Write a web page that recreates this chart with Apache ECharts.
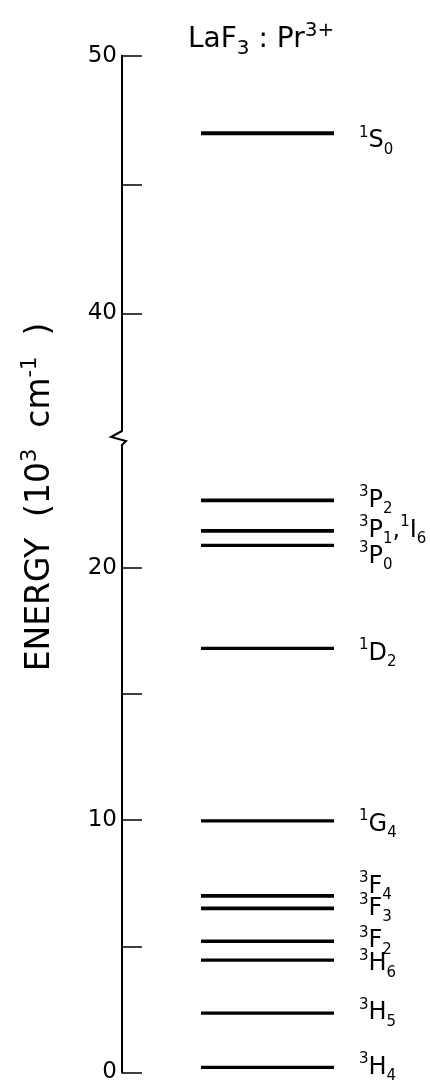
<!DOCTYPE html>
<html>
<head>
<meta charset="utf-8">
<script src="https://cdn.jsdelivr.net/npm/echarts@6/dist/echarts.min.js"></script>
<style>
html,body{margin:0;padding:0;background:#fff;}
#chart{width:430px;height:1084px;}
</style>
</head>
<body>
<div id="chart"></div>
<script>
// ---- data ----
const levelNames = ['3H4', '3H5', '3H6', '3F2', '3F3', '3F4', '1G4', '1D2', '3P0', '3P1, 1I6', '3P2', '1S0'];
const levelEnergies = [0.2, 2.35, 4.45, 5.2, 6.5, 7.0, 9.97, 16.8, 20.88, 21.46, 22.67, 46.99];
const levelLabels = [
  '{s|3}{m|H}{b|4}', '{s|3}{m|H}{b|5}', '{s|3}{m|H}{b|6}', '{s|3}{m|F}{b|2}',
  '{s|3}{m|F}{b|3}', '{s|3}{m|F}{b|4}', '{s|1}{m|G}{b|4}', '{s|1}{m|D}{b|2}',
  '{s|3}{m|P}{b|0}', '{s|3}{m|P}{b|1}{m|,}{s|1}{m|I}{b|6}', '{s|3}{m|P}{b|2}', '{s|1}{m|S}{b|0}'
];
const lowerTicks = [0, 5, 10, 15, 20];
const lowerTickLabels = [0, 10, 20];
const upperTicks = [40, 45, 50];
const upperTickLabels = [40, 50];
const axisBreak = [24.86, 35.43]; // ENERGY range removed by the axis break

// ---- layout ----
const FONT = 'DejaVu Sans';
const AXIS_X = 122;
const LINE_X0 = 79, LINE_X1 = 212;   // level line extent in x-axis units (0..308)
const LABEL_GAP = 25;
const labelNudge = {'1S0': 8, '3F4': -9, '3P0': 11, '1G4': 4, '3H6': 4, '1D2': 5};
const thickLevels = {'1S0': 4, '3P2': 3.8, '3P1, 1I6': 3.8, '3F4': 3.8, '3F3': 3.8};

const richLabel = {
  m: {fontFamily: FONT, fontSize: 24, fontWeight: 'normal', lineHeight: 32, verticalAlign: 'middle', color: '#000'},
  s: {fontFamily: FONT, fontSize: 15, fontWeight: 'normal', lineHeight: 15, verticalAlign: 'top', color: '#000'},
  b: {fontFamily: FONT, fontSize: 15, fontWeight: 'normal', lineHeight: 17, verticalAlign: 'bottom', color: '#000'}
};

const lowerData = [], upperData = [];
levelEnergies.forEach((e, i) => {
  (e < axisBreak[0] ? lowerData : upperData).push([e, i]);
});

function renderItem(params, api) {
  const e = api.value(0);
  const idx = api.value(1);
  const p0 = api.coord([LINE_X0, e]);
  const p1 = api.coord([LINE_X1, e]);
  const name = levelNames[idx];
  const dy = labelNudge[name] || 0;
  return {
    type: 'group',
    children: [
      {type: 'line', shape: {x1: p0[0], y1: p0[1], x2: p1[0], y2: p1[1]},
       style: {stroke: '#000', lineWidth: thickLevels[name] || 3.3}},
      {type: 'text', x: p1[0] + LABEL_GAP, y: p0[1] + dy,
       style: {text: levelLabels[idx], rich: richLabel, fill: '#000',
               align: 'left', verticalAlign: 'middle', textAlign: 'left', textVerticalAlign: 'middle'}}
    ]
  };
}

function yAxisCfg(gridIndex, min, max, ticks, labels) {
  return {
    type: 'value', gridIndex, min, max,
    axisLine: {show: true, lineStyle: {color: '#000', width: 2}},
    axisTick: {show: true, inside: true, length: 20, customValues: ticks, lineStyle: {color: '#000', width: 1.5}},
    axisLabel: {show: true, customValues: labels, margin: 5, color: '#000', fontFamily: FONT, fontSize: 23},
    splitLine: {show: false}
  };
}

const chart = echarts.init(document.getElementById('chart'), null, {renderer: 'canvas'});
chart.setOption({
  animation: false,
  backgroundColor: '#fff',
  title: {
    text: '{m|LaF}{b|3}{m| : Pr}{s|3+}',
    left: 183, top: 16,
    textStyle: {
      fontWeight: 'normal',
      rich: {
        m: {fontFamily: FONT, fontSize: 28, fontWeight: 'normal', lineHeight: 38, verticalAlign: 'middle', color: '#000'},
        s: {fontFamily: FONT, fontSize: 20, fontWeight: 'normal', lineHeight: 18, verticalAlign: 'top', color: '#000'},
        b: {fontFamily: FONT, fontSize: 20, fontWeight: 'normal', lineHeight: 18, verticalAlign: 'bottom', color: '#000'}
      }
    }
  },
  grid: [
    {left: AXIS_X, right: 0, top: 445, bottom: 8.5},
    {left: AXIS_X, right: 0, top: 55.7, height: 375.3}
  ],
  xAxis: [
    {type: 'value', gridIndex: 0, min: 0, max: 308, show: false},
    {type: 'value', gridIndex: 1, min: 0, max: 308, show: false}
  ],
  yAxis: [
    yAxisCfg(0, 0, axisBreak[0], lowerTicks, lowerTickLabels),
    yAxisCfg(1, axisBreak[1], 50, upperTicks, upperTickLabels)
  ],
  series: [
    {type: 'custom', xAxisIndex: 0, yAxisIndex: 0, data: lowerData.map(d => [d[0], d[1]]),
     encode: {y: 0}, renderItem: renderItem, clip: false},
    {type: 'custom', xAxisIndex: 1, yAxisIndex: 1, data: upperData.map(d => [d[0], d[1]]),
     encode: {y: 0}, renderItem: renderItem, clip: false}
  ]
});

// axis break mark and axis name
const pTop = chart.convertToPixel({xAxisIndex: 1, yAxisIndex: 1}, [0, axisBreak[1]]);
const pBot = chart.convertToPixel({xAxisIndex: 0, yAxisIndex: 0}, [0, axisBreak[0]]);
const midY = (pTop[1] + pBot[1]) / 2;
chart.setOption({
  graphic: [
    {type: 'polyline', shape: {points: [
      [pTop[0], pTop[1]], [pTop[0] - 11, midY - 1], [pTop[0] + 4, midY + 3], [pBot[0], pBot[1]]
    ]}, style: {stroke: '#000', lineWidth: 2, fill: null}},
    {type: 'text', x: 40, y: 497, rotation: Math.PI / 2,
     style: {
       text: '{m|ENERGY  (10}{s|3}{m|  cm}{s|-1}{m|  )}',
       rich: {
         m: {fontFamily: FONT, fontSize: 33, lineHeight: 40, verticalAlign: 'middle', color: '#000'},
         s: {fontFamily: FONT, fontSize: 21, lineHeight: 20, verticalAlign: 'top', color: '#000'}
       },
       align: 'center', verticalAlign: 'middle', textAlign: 'center', textVerticalAlign: 'middle', fill: '#000'
     }}
  ]
});
</script>
</body>
</html>
